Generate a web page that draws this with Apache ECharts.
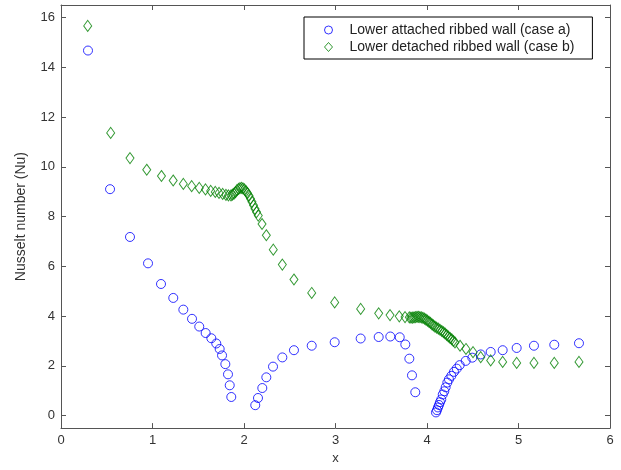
<!DOCTYPE html>
<html>
<head>
<meta charset="UTF-8">
<title>Nusselt number</title>
<style>
    html, body { margin: 0; padding: 0; background: #fff; }
    #chart { width: 621px; height: 470px; }
</style>
</head>
<body>
<div id="chart"></div>
<script src="https://cdn.jsdelivr.net/npm/echarts@6/dist/echarts.min.js"></script>
<script>
    // case a: lower attached ribbed wall
    var caseA_x = [0.295, 0.536, 0.754, 0.951, 1.093, 1.227, 1.337, 1.432, 1.511, 1.581, 1.643, 1.697,
        1.734, 1.760, 1.796, 1.825, 1.844, 1.861,
        2.123, 2.153, 2.200, 2.244, 2.317, 2.419, 2.546, 2.740, 2.991, 3.275, 3.472, 3.599, 3.702,
        3.763, 3.807, 3.836, 3.872,
        4.098, 4.109, 4.120, 4.131, 4.142, 4.156, 4.172, 4.189, 4.204, 4.222, 4.240, 4.266, 4.295,
        4.325, 4.357, 4.423, 4.495, 4.587, 4.696, 4.827, 4.980, 5.169, 5.391, 5.661];
    var caseA_y = [14.67, 9.10, 7.18, 6.12, 5.29, 4.73, 4.26, 3.89, 3.58, 3.32, 3.11, 2.90,
        2.68, 2.42, 2.07, 1.66, 1.22, 0.75,
        0.42, 0.71, 1.11, 1.54, 1.97, 2.34, 2.63, 2.81, 2.95, 3.10, 3.16, 3.18, 3.15,
        2.86, 2.29, 1.62, 0.94,
        0.13, 0.22, 0.33, 0.43, 0.54, 0.65, 0.85, 0.98, 1.14, 1.33, 1.46, 1.60, 1.76,
        1.89, 2.03, 2.20, 2.33, 2.46, 2.56, 2.63, 2.72, 2.81, 2.85, 2.91];

    // case b: lower detached ribbed wall
    var caseB_x = [0.292, 0.543, 0.754, 0.937, 1.098, 1.226, 1.337, 1.428, 1.511, 1.579, 1.636, 1.686,
        1.727, 1.767, 1.803, 1.830, 1.858, 1.874, 1.891, 1.907, 1.923, 1.940, 1.956, 1.973, 1.989,
        2.005, 2.022, 2.038, 2.055, 2.071, 2.087, 2.104, 2.120, 2.137, 2.156, 2.197, 2.244, 2.320,
        2.419, 2.546, 2.740, 2.991, 3.275, 3.472, 3.596, 3.697, 3.760, 3.807, 3.825, 3.842, 3.858,
        3.874, 3.891, 3.907, 3.923, 3.940, 3.956, 3.973, 3.989, 4.005, 4.022, 4.038, 4.055, 4.070,
        4.087, 4.105, 4.124, 4.142, 4.161, 4.180, 4.197, 4.215, 4.233, 4.252, 4.270, 4.288, 4.306,
        4.361, 4.426, 4.503, 4.587, 4.696, 4.827, 4.980, 5.169, 5.391, 5.661];
    var caseB_y = [15.66, 11.36, 10.35, 9.88, 9.63, 9.45, 9.31, 9.22, 9.15, 9.09, 9.03, 8.99,
        8.95, 8.91, 8.87, 8.85, 8.85, 8.88, 8.92, 8.98, 9.06, 9.11, 9.14, 9.15, 9.13,
        9.09, 9.02, 8.94, 8.84, 8.72, 8.59, 8.45, 8.31, 8.18, 8.04, 7.70, 7.25, 6.67,
        6.07, 5.47, 4.93, 4.55, 4.29, 4.11, 4.04, 3.99, 3.96, 3.95, 3.94, 3.94, 3.95,
        3.96, 3.97, 3.97, 3.96, 3.95, 3.93, 3.90, 3.86, 3.82, 3.77, 3.73, 3.67, 3.63,
        3.58, 3.54, 3.50, 3.45, 3.40, 3.35, 3.30, 3.24, 3.18, 3.12, 3.07, 3.00, 2.94,
        2.81, 2.68, 2.55, 2.35, 2.22, 2.16, 2.12, 2.12, 2.12, 2.16];

    var yTicks = [0, 2, 4, 6, 8, 10, 12, 14, 16];

    function pairs(xs, ys) {
        var out = [];
        for (var i = 0; i < xs.length; i++) {
            out.push([xs[i], ys[i]]);
        }
        return out;
    }

    var axisColor = '#555';
    var font = 'Liberation Sans, Arial, sans-serif';

    var chart = echarts.init(document.getElementById('chart'));
    var option = {
        animation: false,
        backgroundColor: '#fff',
        grid: { left: 61, right: 11, top: 5, bottom: 32, containLabel: false },
        legend: {
            orient: 'vertical',
            left: 304,
            top: 17,
            padding: [6, 18, 5, 20],
            itemWidth: 8,
            itemHeight: 9,
            itemGap: 3,
            borderColor: '#000',
            borderWidth: 1,
            backgroundColor: '#fff',
            itemStyle: { borderWidth: 1 },
            textStyle: { fontFamily: font, fontSize: 14, color: '#222', lineHeight: 14, padding: [0, 0, 0, 12] },
            data: ['Lower attached ribbed wall (case a)', 'Lower detached ribbed wall (case b)']
        },
        xAxis: [{
            type: 'value',
            min: 0, max: 6, interval: 1,
            name: 'x',
            nameLocation: 'middle',
            nameGap: 18,
            nameTextStyle: { fontFamily: font, fontSize: 13, color: '#333' },
            axisLine: { onZero: false, lineStyle: { color: axisColor } },
            axisTick: { inside: true, length: 5, lineStyle: { color: axisColor } },
            axisLabel: { margin: 6, fontFamily: font, fontSize: 13, color: '#333' },
            splitLine: { show: false }
        }, {
            type: 'value',
            position: 'top',
            min: 0, max: 6, interval: 1,
            axisLine: { show: true, onZero: false, lineStyle: { color: axisColor } },
            axisTick: { show: true, inside: true, length: 5, lineStyle: { color: axisColor } },
            axisLabel: { show: false },
            splitLine: { show: false }
        }],
        yAxis: [{
            type: 'value',
            min: -0.5, max: 16.5,
            name: 'Nusselt number (Nu)',
            nameLocation: 'middle',
            nameGap: 33,
            nameTextStyle: { fontFamily: font, fontSize: 14, color: '#333' },
            axisLine: { show: true, onZero: false, lineStyle: { color: axisColor } },
            axisTick: { show: true, inside: true, length: 5, customValues: yTicks, lineStyle: { color: axisColor } },
            axisLabel: { margin: 6, customValues: yTicks, fontFamily: font, fontSize: 13, color: '#333' },
            splitLine: { show: false }
        }, {
            type: 'value',
            position: 'right',
            min: -0.5, max: 16.5,
            axisLine: { show: true, onZero: false, lineStyle: { color: axisColor } },
            axisTick: { show: true, inside: true, length: 5, customValues: yTicks, lineStyle: { color: axisColor } },
            axisLabel: { show: false },
            splitLine: { show: false }
        }],
        series: [{
            name: 'Lower attached ribbed wall (case a)',
            type: 'scatter',
            symbol: 'circle',
            symbolSize: 9,
            itemStyle: { color: 'rgba(255,255,255,0)', borderColor: '#0000ff', borderWidth: 1 },
            data: pairs(caseA_x, caseA_y)
        }, {
            name: 'Lower detached ribbed wall (case b)',
            type: 'scatter',
            symbol: 'diamond',
            symbolSize: [8, 11],
            itemStyle: { color: 'rgba(255,255,255,0)', borderColor: '#008000', borderWidth: 1 },
            data: pairs(caseB_x, caseB_y)
        }]
    };
    chart.setOption(option);
</script>
</body>
</html>
